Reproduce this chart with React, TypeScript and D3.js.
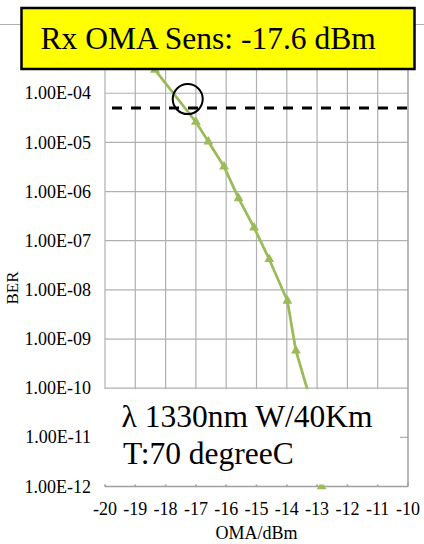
import React, { useEffect, useRef } from "react";
import * as d3 from "d3";

// OMA (dBm) vs BER
const omaDbm = [-18.35, -17.0, -16.59, -16.07, -15.59, -15.08, -14.58, -13.98, -13.7, -13.0, -12.85];
const berValues = [3.0e-4, 2.6e-5, 1.04e-5, 3.2e-6, 7.3e-7, 1.85e-7, 4.2e-8, 6.0e-9, 5.8e-10, 2e-11, 1e-12];

const xTicks = [-20, -19, -18, -17, -16, -15, -14, -13, -12, -11, -10];
const yTicks = [1e-3, 1e-4, 1e-5, 1e-6, 1e-7, 1e-8, 1e-9, 1e-10, 1e-11, 1e-12];

const berLimit = 5e-5;
const crossing = { x: -17.27, y: 7.6e-5 };

const titleText = "Rx OMA Sens: -17.6 dBm";
const noteLines = ["λ 1330nm W/40Km", "T:70 degreeC"];
const xLabel = "OMA/dBm";
const yLabel = "BER";

const FONT = "'Liberation Serif', 'Times New Roman', serif";
const GREEN = "#9bbb59";
const GRID = "#b0b0b0";

const App = () => {
  const svgRef = useRef<SVGSVGElement>(null);

  useEffect(() => {
    const W = 424;
    const H = 544;
    const left = 105;
    const right = 408;
    const top = 44.1;
    const bottom = 486.5;

    const svg = d3.select(svgRef.current).attr("width", W).attr("height", H);
    svg.selectAll("*").remove();

    const x = d3.scaleLinear().domain([-20, -10]).range([left, right]);
    const y = d3.scaleLog().domain([1e-12, 1e-3]).range([bottom, top]);

    const fmt = (v: number) => {
      const e = Math.round(Math.log10(v));
      const s = Math.abs(e) < 10 ? `0${Math.abs(e)}` : `${Math.abs(e)}`;
      return `1.00E-${s}`;
    };

    // frame line across the top
    svg.append("line")
      .attr("x1", 0).attr("x2", W).attr("y1", 24.5).attr("y2", 24.5)
      .attr("stroke", GRID).attr("stroke-width", 1);

    const g = svg.append("g");

    // horizontal gridlines
    g.selectAll(".hg")
      .data(yTicks.filter((d) => d > 1e-12))
      .join("line")
      .attr("x1", left).attr("x2", right)
      .attr("y1", (d) => y(d)).attr("y2", (d) => y(d))
      .attr("stroke", GRID).attr("stroke-width", 1.2);

    // vertical gridlines
    g.selectAll(".vg")
      .data(xTicks.slice(0, -1))
      .join("line")
      .attr("x1", (d) => x(d)).attr("x2", (d) => x(d))
      .attr("y1", top).attr("y2", bottom)
      .attr("stroke", GRID).attr("stroke-width", 1.2);

    // right border
    g.append("line")
      .attr("x1", right).attr("x2", right).attr("y1", top).attr("y2", bottom)
      .attr("stroke", "#a0a0a0").attr("stroke-width", 1.5);

    // bottom axis
    g.append("line")
      .attr("x1", left).attr("x2", right).attr("y1", bottom).attr("y2", bottom)
      .attr("stroke", "#a0a0a0").attr("stroke-width", 1.5);
    g.selectAll(".xt")
      .data(xTicks)
      .join("line")
      .attr("x1", (d) => x(d)).attr("x2", (d) => x(d))
      .attr("y1", bottom - 4).attr("y2", bottom)
      .attr("stroke", "#a0a0a0").attr("stroke-width", 1.5);

    // series
    const pts = omaDbm.map((v, i) => [v, berValues[i]] as [number, number]);
    const line = d3.line<[number, number]>()
      .x((d) => x(d[0]))
      .y((d) => y(d[1]));

    g.append("path")
      .datum(pts)
      .attr("fill", "none")
      .attr("stroke", GREEN)
      .attr("stroke-width", 2.75)
      .attr("d", line);

    const tri = d3.symbol().type(d3.symbolTriangle).size(42);
    g.selectAll(".mk")
      .data(pts)
      .join("path")
      .attr("transform", (d) => `translate(${x(d[0])},${y(d[1])})`)
      .attr("d", tri as any)
      .attr("fill", GREEN);

    // BER limit
    g.append("line")
      .attr("x1", 112).attr("x2", right)
      .attr("y1", y(berLimit)).attr("y2", y(berLimit))
      .attr("stroke", "#000")
      .attr("stroke-width", 3)
      .attr("stroke-dasharray", "10 9");

    // crossing marker
    g.append("circle")
      .attr("cx", x(crossing.x))
      .attr("cy", y(crossing.y))
      .attr("r", 15)
      .attr("fill", "none")
      .attr("stroke", "#000")
      .attr("stroke-width", 2);

    // note box
    g.append("rect")
      .attr("x", 96).attr("y", y(1e-10) + 1)
      .attr("width", 304).attr("height", bottom - y(1e-10) - 3)
      .attr("fill", "#fff");

    const note = g.append("text")
      .attr("font-family", FONT)
      .attr("font-size", 31.5)
      .attr("fill", "#000");
    note.append("tspan").attr("x", 121.5).attr("y", 426.5).text(noteLines[0]);
    note.append("tspan").attr("x", 123).attr("y", 464).text(noteLines[1]);

    // y tick labels (1E-03 sits under the title box, so it is not drawn)
    svg.selectAll(".yl")
      .data(yTicks.filter((d) => d < 5e-4))
      .join("text")
      .attr("x", 91)
      .attr("y", (d) => y(d))
      .attr("dy", "0.34em")
      .attr("text-anchor", "end")
      .attr("font-family", FONT)
      .attr("font-size", 18)
      .text((d) => fmt(d));

    // x tick labels
    svg.selectAll(".xl")
      .data(xTicks)
      .join("text")
      .attr("x", (d) => x(d))
      .attr("y", 515)
      .attr("text-anchor", "middle")
      .attr("font-family", FONT)
      .attr("font-size", 18)
      .text((d) => `${d}`);

    svg.append("text")
      .attr("x", (left + right) / 2)
      .attr("y", 539)
      .attr("text-anchor", "middle")
      .attr("font-family", FONT)
      .attr("font-size", 18)
      .text(xLabel);

    svg.append("text")
      .attr("transform", "translate(18,288) rotate(-90)")
      .attr("text-anchor", "middle")
      .attr("font-family", FONT)
      .attr("font-size", 17)
      .text(yLabel);

    // title box
    svg.append("rect")
      .attr("x", 21.5).attr("y", 8)
      .attr("width", 393).attr("height", 61)
      .attr("fill", "#ffff00")
      .attr("stroke", "#000")
      .attr("stroke-width", 2.5);
    svg.append("text")
      .attr("x", 40.5)
      .attr("y", 49.3)
      .attr("font-family", FONT)
      .attr("font-size", 31.5)
      .text(titleText);
  }, []);

  return (
    <div style={{ position: "absolute", left: 0, top: 0 }}>
      <svg ref={svgRef}></svg>
    </div>
  );
};

export default App;
